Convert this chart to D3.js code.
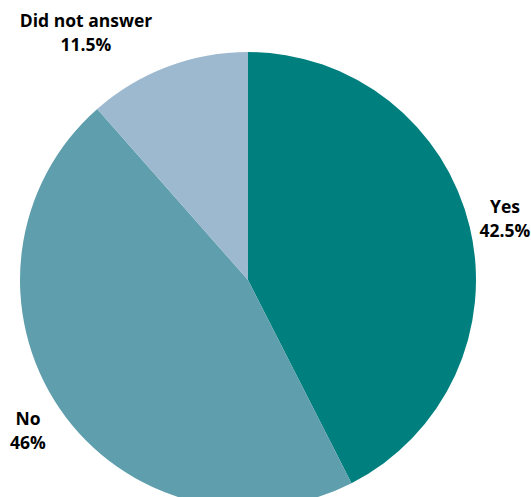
<!DOCTYPE html>
<html><head><meta charset="utf-8">
<script src="https://cdn.jsdelivr.net/npm/d3@7"></script>
<style>html,body{margin:0;padding:0;background:#fff;overflow:hidden}</style>
</head><body>
<svg id="c" width="531" height="497"></svg>
<script>
const categories = ["Yes", "No", "Did not answer"];
const values = [42.5, 46, 11.5];
const valueLabels = ["42.5%", "46%", "11.5%"];
const colors = ["#007F7F", "#5F9EAD", "#9DB9D0"];

const svg = d3.select("#c");
const cx = 248, cy = 280, r = 228;
const g = svg.append("g").attr("transform", `translate(${cx},${cy})`);
const pie = d3.pie().sort(null).value(d => d)(values);
const arc = d3.arc().innerRadius(0).outerRadius(r);
g.selectAll("path").data(pie).join("path")
  .attr("d", arc).attr("fill", (d, i) => colors[i]);

const labelPos = [[505, 213], [28, 425], [86, 27]];
const lg = svg.append("g").attr("font-family", "'Open Sans', sans-serif")
  .attr("font-weight", "bold").attr("font-size", 17.5).attr("fill", "#000")
  .attr("text-anchor", "middle");
categories.forEach((c, i) => {
  const t = lg.append("text").attr("x", labelPos[i][0]).attr("y", labelPos[i][1]);
  t.append("tspan").attr("x", labelPos[i][0]).text(c);
  t.append("tspan").attr("x", labelPos[i][0]).attr("dy", 24).text(valueLabels[i]);
});
</script>
</body></html>
